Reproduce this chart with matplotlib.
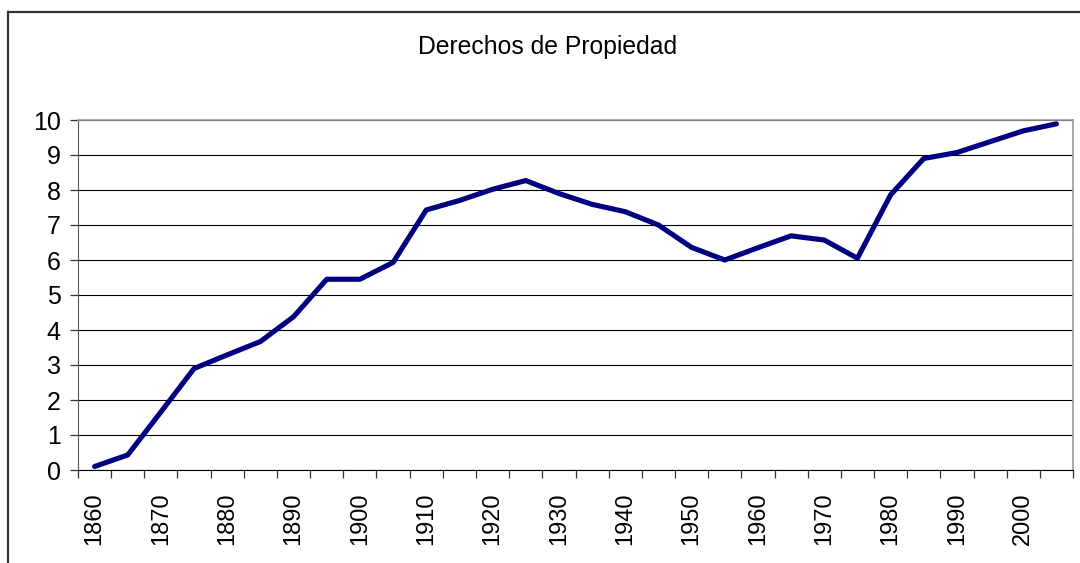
import numpy as np
import matplotlib.pyplot as plt
from matplotlib.lines import Line2D

plt.rcParams['font.family'] = ['Liberation Sans', 'DejaVu Sans']

# Data: property-rights index, every 5 years
years = list(range(1860, 2006, 5))
values = [0.10, 0.43, 1.66, 2.90, 3.29, 3.67, 4.38, 5.45, 5.45, 5.93,
          7.43, 7.70, 8.02, 8.27, 7.90, 7.59, 7.38, 7.00, 6.36, 6.00,
          6.35, 6.69, 6.57, 6.05, 7.86, 8.90, 9.07, 9.38, 9.69, 9.89]
title = 'Derechos de Propiedad'

W, H = 1080, 563
fig = plt.figure(figsize=(W / 100, H / 100), dpi=100)
ax = fig.add_axes([78 / W, 1 - 470 / H, (1073 - 78) / W, (470 - 120) / H])

x = np.arange(len(years))
ax.plot(x, values, color='#000080', lw=3.7, solid_joinstyle='round', solid_capstyle='round',
        zorder=3, clip_on=False)

ax.set_xlim(-0.5, len(years) - 0.5)
ax.set_ylim(0, 10)
ax.set_yticks(range(0, 11))
ax.yaxis.grid(True, color='black', lw=0.8)
ax.set_axisbelow(True)

# labels every decade, tick marks between categories
ax.set_xticks(x[::2])
ax.set_xticklabels([str(y) for y in years[::2]], rotation=90, va='top')
ax.set_xticks(np.arange(-0.5, len(years)), minor=True)
ax.tick_params(axis='x', which='major', length=0, pad=16, labelsize=17)
ax.tick_params(axis='x', which='minor', length=5.5, width=0.9, color='#333333')
ax.tick_params(axis='y', length=5.5, width=0.9, color='#333333', pad=7, labelsize=18)

for s in ['top', 'right']:
    ax.spines[s].set_color('#999999')
    ax.spines[s].set_linewidth(1.2)
ax.spines['left'].set_color('#555555')
ax.spines['bottom'].set_color('black')

fig.text(548 / W, 1 - 47 / H, title, ha='center', va='center', fontsize=17.8)

# outer chart frame (cropped at bottom and right)
fig.add_artist(Line2D([7.5 / W, 7.5 / W], [0, 1 - 11.5 / H], color='#333333', lw=1.6,
                      transform=fig.transFigure))
fig.add_artist(Line2D([7.5 / W, 1], [1 - 11.5 / H, 1 - 11.5 / H], color='#333333', lw=1.6,
                      transform=fig.transFigure))

fig.savefig('out.png', dpi=100)
